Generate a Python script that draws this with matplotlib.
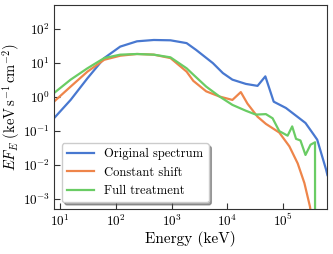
import numpy as np
import matplotlib
matplotlib.use("Agg")
import matplotlib.pyplot as plt

# spectra (energy in keV, E F_E in keV s^-1 cm^-2)
e_orig = [7.8, 15.5, 31, 62, 120, 240, 480, 955, 1860, 2750, 5500, 8300, 12300,
          21400, 34700, 47900, 67600, 112000, 195000, 251000, 355000, 407000, 589000, 620000]
f_orig = [0.234, 0.81, 3.5, 13.8, 30, 43, 47, 46, 38, 24, 9.8, 5.0, 3.2,
          2.4, 2.1, 4.0, 0.72, 0.47, 0.234, 0.17, 0.076, 0.055, 0.0071, 0.005]

e_shift = [7.8, 15.5, 31, 62, 120, 240, 480, 955, 1860, 2450, 4170, 7240, 12300,
           17400, 22900, 34700, 49000, 85100, 129000, 182000, 240000, 302000, 320000]
f_shift = [0.72, 2.0, 5.5, 12.3, 16.2, 18.2, 17.4, 13.8, 5.5, 2.95, 1.45, 1.02, 0.81,
           1.38, 0.63, 0.26, 0.16, 0.089, 0.035, 0.011, 0.0029, 0.00059, 0.0003]

e_full = [7.8, 15.5, 31, 62, 120, 240, 480, 955, 1860, 2450, 4170, 7240, 12300,
          21400, 32400, 49000, 64600, 85100, 120000, 145000, 170000, 204000,
          251000, 309000, 372000, 372500]
f_full = [1.29, 3.2, 6.9, 13.8, 17.4, 18.2, 17.4, 14.5, 6.9, 4.5, 2.0, 1.02, 0.58,
          0.39, 0.30, 0.31, 0.234, 0.098, 0.072, 0.135, 0.058, 0.052,
          0.0195, 0.039, 0.046, 0.0001]

labels = ["Original spectrum", "Constant shift", "Full treatment"]
colors = ["#4878d0", "#ee854a", "#6acc64"]
xticks = [1e1, 1e2, 1e3, 1e4, 1e5]
yticks = [1e-3, 1e-2, 1e-1, 1e0, 1e1, 1e2]

plt.rcParams['font.family'] = 'cmr10'
plt.rcParams['mathtext.fontset'] = 'cm'
plt.rcParams['axes.formatter.use_mathtext'] = True
plt.rcParams['axes.unicode_minus'] = False

fig = plt.figure(figsize=(3.33, 2.54), dpi=100)
ax = fig.add_axes([0.163, 0.177, 0.819, 0.803])

for e, f, lab, c in zip([e_orig, e_shift, e_full], [f_orig, f_shift, f_full], labels, colors):
    ax.plot(e, f, color=c, lw=1.6, label=lab)

ax.set_xscale('log')
ax.set_yscale('log')
ax.set_xticks(xticks)
ax.set_yticks(yticks)
ax.set_xlim(7.9, 6.1e5)
ax.set_ylim(5e-4, 500)
ax.minorticks_off()
ax.tick_params(direction='in', labelsize=9.5, length=4, width=0.8, color='#333333', pad=3)
for s in ax.spines.values():
    s.set_color('#333333')
ax.set_xlabel('Energy (keV)', fontsize=11, labelpad=1)
ax.set_ylabel(r'$EF_E\ (\mathrm{keV\,s^{-1}\,cm^{-2}})$', fontsize=10.5, labelpad=0)

leg = ax.legend(loc='lower left', bbox_to_anchor=(0.028, 0.034), borderaxespad=0,
                fontsize=9, shadow=True, framealpha=1, fancybox=True, handlelength=2.2)

fig.savefig('out.png', dpi=100)
